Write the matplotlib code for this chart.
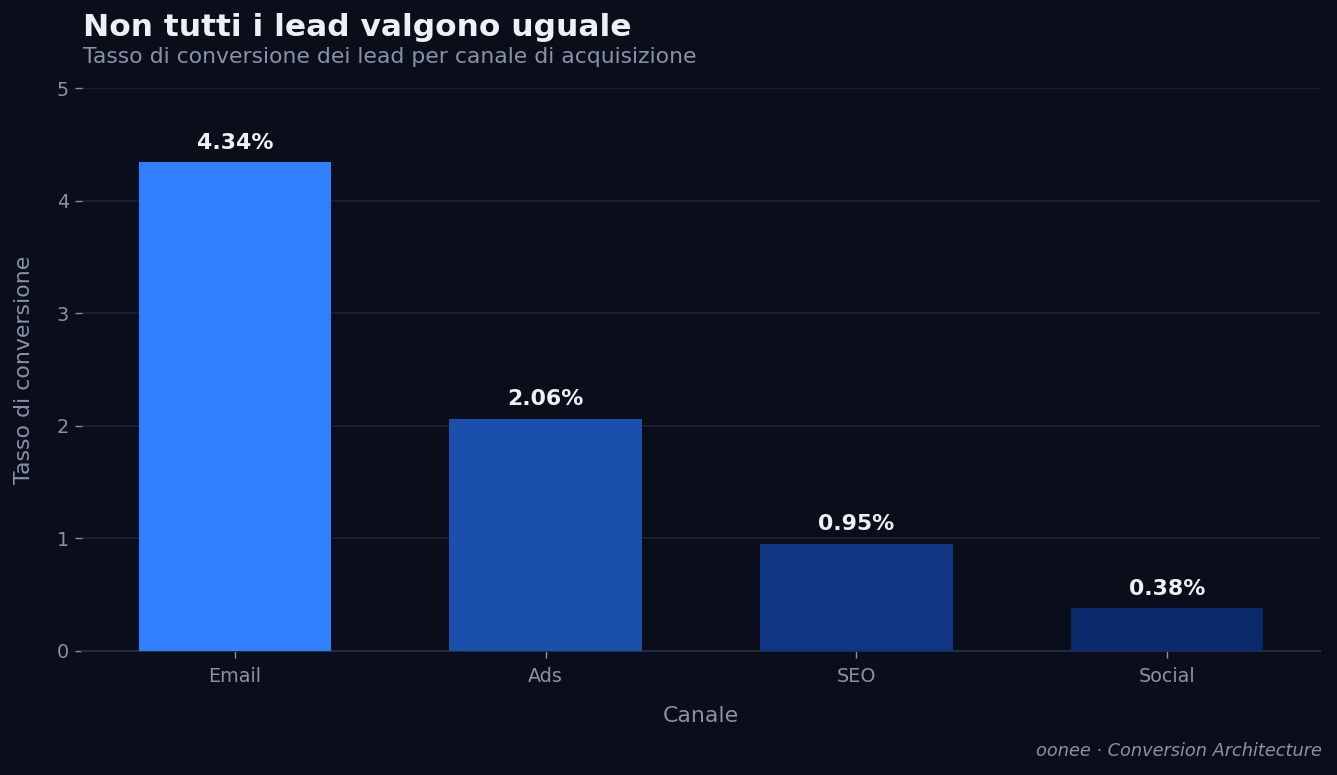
import matplotlib
matplotlib.use("Agg")
import matplotlib.pyplot as plt

plt.rcParams["font.family"] = ["DejaVu Sans"]

# data
canali = ["Email", "Ads", "SEO", "Social"]
tassi = [4.34, 2.06, 0.95, 0.38]
colori = ["#2f7fff", "#1a4fac", "#0f3585", "#0b2a6b"]

bg = "#0a0e1a"
muted = "#8a90a6"
light = "#eef0f8"

fig = plt.figure(figsize=(1337 / 125, 775 / 125), dpi=125, facecolor=bg)
ax = fig.add_axes([82 / 1337, 1 - 651 / 775, (1320 - 82) / 1337, (651 - 88) / 775])
ax.set_facecolor(bg)

x = range(len(canali))
bars = ax.bar(x, tassi, width=0.62, color=colori, zorder=3)

for b, v in zip(bars, tassi):
    ax.annotate(f"{v:.2f}%", (b.get_x() + b.get_width() / 2, v),
                xytext=(0, 5.5), textcoords="offset points",
                ha="center", va="bottom", color=light,
                fontsize=12.7, fontweight="bold")

ax.set_xlim(-0.4925, 3.4925)
ax.set_ylim(0, 5)
ax.set_xticks(list(x))
ax.set_xticklabels(canali)
ax.set_yticks([0, 1, 2, 3, 4, 5])
ax.tick_params(colors=muted, labelsize=11, length=4)
ax.tick_params(axis="x", pad=5.5)
ax.grid(axis="y", color="#1a1f30", linewidth=1.2, zorder=0)
for s in ["top", "right", "left"]:
    ax.spines[s].set_visible(False)
ax.spines["bottom"].set_color("#262b40")
ax.spines["bottom"].set_linewidth(1.2)

ax.set_xlabel("Canale", color=muted, fontsize=12.7, labelpad=11)
ax.set_ylabel("Tasso di conversione", color=muted, fontsize=12.7, labelpad=13)

fig.text(83 / 1337, 1 - 28 / 775, "Non tutti i lead valgono uguale",
         color=light, fontsize=18, fontweight="bold", va="center")
fig.text(83 / 1337, 1 - 57 / 775, "Tasso di conversione dei lead per canale di acquisizione",
         color=muted, fontsize=12.6, va="center")
fig.text(1322 / 1337, 1 - 751 / 775, "oonee · Conversion Architecture",
         color=muted, fontsize=10.2, style="italic", ha="right", va="center")

fig.savefig("out.png", dpi=125, facecolor=bg)
